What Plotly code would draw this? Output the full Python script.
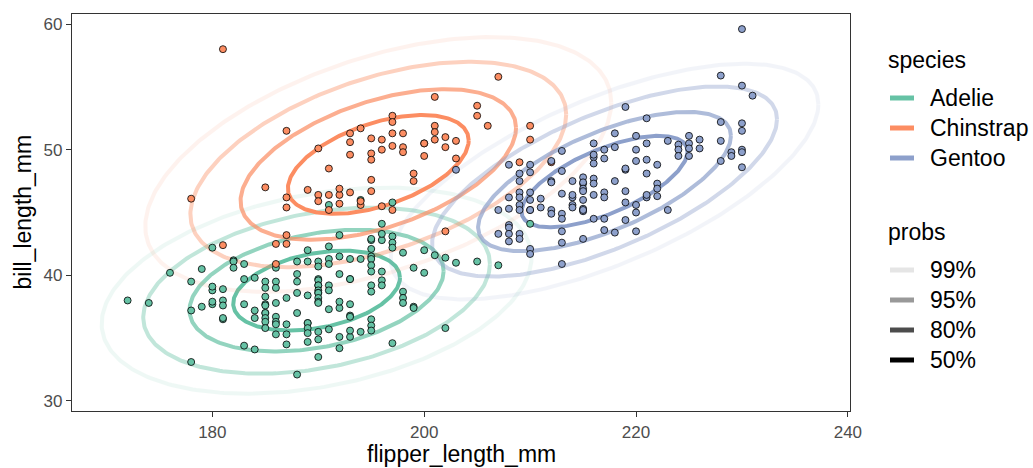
import numpy as np
import plotly.graph_objects as go

# ---------------- data ----------------
adelie_flipper = [180, 176, 179, 178, 180, 180, 181, 172, 174, 178, 179, 180, 180, 181, 181, 181, 181, 178, 183, 184,
                  192, 189, 191, 192, 191, 193, 194, 182, 182, 182, 183, 186, 188, 189, 190, 190, 191, 188, 184, 183,
                  185, 186, 188, 190, 190, 185, 186, 190, 190, 191, 190, 192, 193, 193, 188, 189, 190, 190, 190, 191,
                  190, 190, 187, 186, 185, 185, 185, 183, 184, 184, 185, 185, 185, 185, 186, 186, 187, 186, 185, 186,
                  187, 188, 189, 189, 189, 190, 189, 190, 191, 192, 192, 193, 193, 193, 191, 192, 193, 193, 194,
                  196, 195, 195, 196, 196, 197, 197, 197, 195, 198, 195, 195, 195, 200, 201, 202, 203, 205, 199, 200,
                  195, 196, 196, 195, 196, 195, 198, 198, 198, 199, 199, 195, 195, 195, 202, 197, 187, 190, 188, 192,
                  189, 210, 207, 194, 197, 191]
adelie_bill = [42.2, 40.2, 40.5, 39.5, 38.8, 39.1, 38.9, 38.0, 37.8, 37.2, 37.5, 37.7, 37.9, 38.0, 37.6, 36.5, 36.6, 33.1, 34.4, 34.1,
               43.2, 42.0, 42.3, 41.5, 41.3, 41.3, 41.3, 41.2, 41.1, 40.6, 40.9, 40.6, 41.1, 41.1, 41.1, 40.7, 40.9, 40.1, 39.8, 39.7,
               39.5, 39.5, 39.5, 39.7, 39.6, 39.0, 39.0, 39.2, 39.2, 39.2, 38.8, 40.1, 39.7, 39.7, 38.6, 38.4, 38.6, 38.6, 38.2, 38.8,
               37.9, 37.8, 38.2, 37.8, 38.3, 37.7, 37.6, 37.7, 37.2, 36.6, 37.0, 37.0, 36.6, 36.3, 36.7, 36.3, 36.1, 36.1, 35.8, 35.3,
               35.3, 37.0, 36.2, 36.2, 35.8, 35.5, 35.4, 34.9, 37.3, 37.4, 37.9, 37.7, 36.8, 36.7, 35.7, 35.1, 35.1, 35.6, 35.5,
               44.1, 42.8, 42.9, 42.8, 43.3, 43.1, 42.6, 42.2, 42.1, 41.8, 41.5, 41.3, 40.8, 42.0, 41.6, 41.4, 41.0, 41.1, 40.6, 40.2,
               40.3, 40.3, 39.6, 39.2, 39.2, 38.7, 38.7, 38.2, 37.8, 37.5, 37.4, 36.5, 36.0, 35.6, 35.8, 34.6, 34.5, 33.5, 32.1, 34.2,
               34.7, 44.1, 40.8, 46.0, 45.8, 45.6]

chinstrap_flipper = [181, 187, 186, 187, 186, 202,
                     181, 178, 187, 185, 187, 187, 190, 191, 193, 193, 194, 193, 189, 190, 191, 190, 192, 192, 193, 192,
                     194, 191,
                     207, 201, 205, 205, 206, 197, 197, 197, 196, 195, 198, 195, 195, 196, 197, 198, 198, 200, 200, 200,
                     201, 201, 201, 202, 203, 202, 203, 199, 199, 195, 195, 194, 196, 197,
                     210, 210, 209, 212]
chinstrap_bill = [42.4, 43.2, 42.5, 42.5, 40.9, 43.5,
                  58.0, 46.1, 51.5, 47.0, 46.2, 45.4, 50.1, 48.5, 50.6, 51.3, 51.7, 49.6, 46.8, 46.4, 46.4, 45.9, 46.4, 46.9, 46.6, 45.7,
                  45.6, 45.2,
                  55.8, 54.2, 53.5, 52.7, 51.9, 52.7, 52.2, 51.3, 50.8, 50.9, 51.3, 49.7, 49.2, 50.0, 50.3, 50.2, 49.8, 49.5, 50.5, 50.5,
                  50.8, 51.9, 51.4, 51.0, 50.7, 50.2, 49.3, 48.1, 47.5, 47.6, 46.7, 45.9, 45.5, 45.2,
                  51.9, 50.8, 49.0, 49.0]

gentoo_flipper = [203, 207,
                  208, 210, 210, 209, 209, 212, 213, 216, 213, 212, 212, 216, 216, 216, 214, 215, 215, 215, 215, 215,
                  216, 216, 210, 209, 209, 210, 209, 209, 210, 210, 208, 208, 211, 211, 212, 212, 213, 213, 214, 214,
                  215, 214, 214, 215, 215, 215, 215, 216, 216, 213, 213, 213, 215, 208, 208, 207, 208, 208, 209, 209,
                  210, 210, 213,
                  230, 228, 230, 231, 219, 221, 228, 230, 230, 218, 220, 223, 221, 220, 225, 226, 225, 224, 224, 225,
                  226, 224, 225, 228, 229, 229, 228, 230, 230, 230, 221, 222, 220, 219, 219, 218, 217, 217,
                  221, 218, 222, 222, 222, 221, 221, 219, 217, 217, 219, 220, 220, 223, 217, 219, 217, 218, 220]
gentoo_bill = [48.4, 45.2,
               48.8, 48.8, 48.2, 48.1, 47.5, 49.1, 49.9, 50.5, 48.3, 47.5, 47.4, 49.4, 49.6, 48.9, 47.5, 47.8, 47.3, 47.4, 46.9, 46.7,
               47.7, 47.3, 46.6, 46.6, 46.2, 46.0, 45.6, 45.2, 45.2, 45.2, 46.2, 45.3, 46.1, 45.4, 45.2, 44.9, 44.9, 46.5, 46.2, 46.4,
               46.0, 45.6, 45.4, 45.2, 45.3, 45.1, 45.2, 46.4, 44.5, 44.5, 43.5, 42.6, 42.9, 44.0, 43.8, 43.3, 43.3, 42.7, 43.3, 42.9,
               42.1, 41.7, 40.9,
               59.6, 55.9, 55.1, 54.3, 53.4, 52.5, 52.2, 52.1, 51.5, 51.3, 51.1, 50.7, 50.5, 50.0, 51.1, 50.8, 50.5, 50.4, 50.0, 50.1,
               50.1, 49.5, 49.5, 50.7, 49.8, 49.5, 49.1, 48.6, 50.0, 49.8, 49.2, 48.8, 49.1, 48.4, 48.5, 50.2, 50.0, 49.3,
               48.1, 47.5, 47.3, 46.9, 46.3, 46.2, 46.4, 46.7, 46.6, 46.2, 45.8, 45.6, 45.0, 45.2, 44.5, 44.4, 43.6, 43.4, 43.5]

species_names = ["Adelie", "Chinstrap", "Gentoo"]
probs = [0.99, 0.95, 0.80, 0.50]
prob_labels = ["99%", "95%", "80%", "50%"]

# ---------------- styles ----------------
species_colors = ["#66C2A5", "#FC8D62", "#8DA0CB"]
prob_alphas = [0.1, 0.4, 0.7, 1.0]
FONT = "Liberation Sans, Arial, sans-serif"

series = [(adelie_flipper, adelie_bill), (chinstrap_flipper, chinstrap_bill), (gentoo_flipper, gentoo_bill)]


def hdr_ellipse(x, y, p, n=300):
    X = np.vstack([np.asarray(x, float), np.asarray(y, float)])
    mu = X.mean(axis=1)
    S = np.cov(X)
    L = np.linalg.cholesky(S)
    r = np.sqrt(-2.0 * np.log(1.0 - p))
    t = np.linspace(0, 2 * np.pi, n)
    pts = mu[:, None] + r * (L @ np.vstack([np.cos(t), np.sin(t)]))
    return pts[0], pts[1]


fig = go.Figure()

# HDR contour lines
for (fx, by), col in zip(series, species_colors):
    for p, a in zip(probs, prob_alphas):
        ex, ey = hdr_ellipse(fx, by, p)
        fig.add_trace(go.Scatter(x=ex, y=ey, mode="lines", line=dict(color=col, width=4),
                                 opacity=a, showlegend=False, hoverinfo="skip"))

# points
for (fx, by), col, nm in zip(series, species_colors, species_names):
    fig.add_trace(go.Scatter(x=fx, y=by, mode="markers", showlegend=False, name=nm,
                             marker=dict(size=7, color=col, line=dict(color="black", width=0.8))))

# ---------------- manual legends (pixel offsets from the panel's top-right corner) ----------------
shapes = []
annotations = []


def legend_text(text, dx, dy, size=23):
    annotations.append(dict(text=text, x=1, xref="paper", xanchor="left", xshift=dx,
                            y=1, yref="paper", yanchor="middle", yshift=dy, showarrow=False,
                            font=dict(family=FONT, size=size, color="black")))


def legend_key(color, dy):
    shapes.append(dict(type="line", xref="paper", yref="paper", xsizemode="pixel", ysizemode="pixel",
                       xanchor=1, yanchor=1, x0=40, x1=64, y0=dy, y1=dy,
                       line=dict(color=color, width=5)))


legend_text("species", 36, -46)
for i, (nm, col) in enumerate(zip(species_names, species_colors)):
    dy = -84 - 30 * i
    legend_key(col, dy)
    legend_text(nm, 78, dy)

legend_text("probs", 36, -218)
for i, (lab, a) in enumerate(zip(prob_labels, prob_alphas)):
    dy = -256 - 30 * i
    legend_key(f"rgba(0,0,0,{a})", dy)
    legend_text(lab, 78, dy)

# axis titles
annotations.append(dict(text="flipper_length_mm", x=0.5, xref="paper", xanchor="center", y=0, yref="paper",
                        yanchor="middle", yshift=-43, showarrow=False,
                        font=dict(family=FONT, size=23, color="black")))
annotations.append(dict(text="bill_length_mm", x=0, xref="paper", xanchor="center", xshift=-50, y=0.5,
                        yref="paper", yanchor="middle", textangle=-90, showarrow=False,
                        font=dict(family=FONT, size=23, color="black")))

axis_common = dict(showgrid=False, zeroline=False, showline=True, mirror=True, linecolor="#333333",
                   linewidth=1.2, ticks="outside", ticklen=5, tickcolor="#333333", tickwidth=1.2,
                   automargin=False, tickfont=dict(family=FONT, size=17, color="#4D4D4D"))

fig.update_layout(
    width=1033, height=468,
    paper_bgcolor="white", plot_bgcolor="white",
    margin=dict(l=72, r=183, t=14, b=57),
    font=dict(family=FONT, color="black"),
    showlegend=False,
    xaxis=dict(range=[166.75, 240.2], tickvals=[180, 200, 220, 240], **axis_common),
    yaxis=dict(range=[29.2, 60.8], tickvals=[30, 40, 50, 60], **axis_common),
    shapes=shapes,
    annotations=annotations,
)

fig.write_html("out.html", post_script="document.body.style.margin='0px';",
               config={"displayModeBar": False})
